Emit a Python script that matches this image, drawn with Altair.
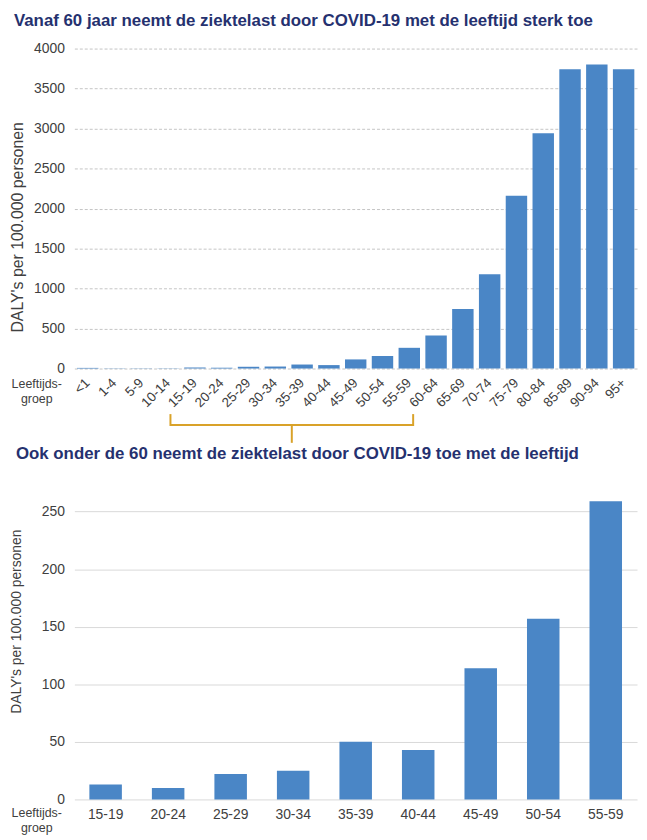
import altair as alt
import pandas as pd

# ---------------- data ----------------
AGE_ALL = ["<1", "1-4", "5-9", "10-14", "15-19", "20-24", "25-29", "30-34",
           "35-39", "40-44", "45-49", "50-54", "55-59", "60-64", "65-69",
           "70-74", "75-79", "80-84", "85-89", "90-94", "95+"]
DALY_ALL = [8, 3, 3, 4, 13, 10, 22, 25, 50, 43, 114, 157, 259, 413, 745,
            1180, 2160, 2940, 3740, 3800, 3740]

AGE_SUB = ["15-19", "20-24", "25-29", "30-34", "35-39", "40-44", "45-49",
           "50-54", "55-59"]
DALY_SUB = [13, 10, 22, 25, 50, 43, 114, 157, 259]

Y_TICKS_TOP = [0, 500, 1000, 1500, 2000, 2500, 3000, 3500, 4000]
Y_TICKS_SUB = [0, 50, 100, 150, 200, 250]

TITLE_TOP = "Vanaf 60 jaar neemt de ziektelast door COVID-19 met de leeftijd sterk toe"
TITLE_SUB = "Ook onder de 60 neemt de ziektelast door COVID-19 toe met de leeftijd"
Y_TITLE = "DALY's per 100.000 personen"
X_LABEL = ["Leeftijds-", "groep"]

# ---------------- style ----------------
BLUE = "#4a86c6"
NAVY = "#25316f"
GOLD = "#d9a229"
TXT = "#404040"
FONT = "Liberation Sans"

W = 568
H1 = 323
H2 = 308

top_df = pd.DataFrame({"age": AGE_ALL, "daly": DALY_ALL})
sub_df = pd.DataFrame({"age": AGE_SUB, "daly": DALY_SUB})
one = alt.Data(values=[{}])


def yaxis(values, dash, gcolor, tsize, tpad, ty):
    return alt.Axis(title=Y_TITLE, values=values, format="d", ticks=False, domain=False,
                    labelPadding=10, labelFontSize=14, labelColor=TXT,
                    titleFontSize=tsize, titleFontWeight="normal", titleColor=TXT,
                    titlePadding=tpad, titleY=ty, minExtent=40, maxExtent=40,
                    grid=True, gridColor=gcolor, gridDash=dash, gridWidth=1)


# ---------------- top chart ----------------
top_bars = alt.Chart(top_df).mark_bar(color=BLUE).encode(
    x=alt.X("age:N", sort=AGE_ALL,
            scale=alt.Scale(paddingInner=0.2, paddingOuter=0.1),
            axis=alt.Axis(title=None, labelAngle=-45, labelAlign="right",
                          labelBaseline="middle", ticks=False, domain=False,
                          labelPadding=12, labelFontSize=13.5, labelColor=TXT,
                          labelOverlap=False, grid=False)),
    y=alt.Y("daly:Q", scale=alt.Scale(domain=[0, 4000], nice=False),
            axis=yaxis(Y_TICKS_TOP, [3, 2], "#c4c4c4", 16, 9, 180)),
)

top_lbl = alt.Chart(one).mark_text(text=X_LABEL, align="center", baseline="top",
                                   fontSize=12.5, lineHeight=15, color=TXT).encode(
    x=alt.value(-38), y=alt.value(H1 + 10))

b_left, b_right = 97, 342
b_mid = (b_left + b_right) / 2
br_h = alt.Chart(one).mark_rule(color=GOLD, strokeWidth=2).encode(
    x=alt.value(b_left), x2=alt.value(b_right), y=alt.value(H1 + 57))
br_l = alt.Chart(one).mark_rule(color=GOLD, strokeWidth=2).encode(
    x=alt.value(b_left), y=alt.value(H1 + 46), y2=alt.value(H1 + 58))
br_r = alt.Chart(one).mark_rule(color=GOLD, strokeWidth=2).encode(
    x=alt.value(b_right), y=alt.value(H1 + 46), y2=alt.value(H1 + 58))
br_m = alt.Chart(one).mark_rule(color=GOLD, strokeWidth=2).encode(
    x=alt.value(b_mid), y=alt.value(H1 + 57), y2=alt.value(H1 + 75))

top = alt.layer(top_bars, top_lbl, br_h, br_l, br_r, br_m).properties(
    width=W, height=H1,
    title=alt.TitleParams(TITLE_TOP, anchor="start", fontSize=17, fontWeight="bold",
                          color=NAVY, offset=12, dx=4, font=FONT))

# ---------------- bottom chart ----------------
sub_bars = alt.Chart(sub_df).mark_bar(color=BLUE).encode(
    x=alt.X("age:N", sort=AGE_SUB,
            scale=alt.Scale(paddingInner=0.48, paddingOuter=0.24),
            axis=alt.Axis(title=None, labelAngle=0, ticks=False, domain=False,
                          labelPadding=8, labelFontSize=14, labelColor=TXT,
                          grid=False)),
    y=alt.Y("daly:Q", scale=alt.Scale(domain=[0, 265], nice=False),
            axis=yaxis(Y_TICKS_SUB, [], "#d9d9d9", 14, 11, 128)),
)

sub_lbl = alt.Chart(one).mark_text(text=X_LABEL, align="center", baseline="top",
                                   fontSize=12.5, lineHeight=15, color=TXT).encode(
    x=alt.value(-38), y=alt.value(H2 + 8))

sub = alt.layer(sub_bars, sub_lbl).properties(
    width=W, height=H2,
    title=alt.TitleParams(TITLE_SUB, anchor="start", fontSize=17, fontWeight="bold",
                          color=NAVY, offset=32, dx=6, font=FONT))

chart = alt.vconcat(top, sub, spacing=1).properties(
    padding={"left": 2, "top": 0, "right": 2, "bottom": 2}).configure(
    font=FONT).configure_view(stroke=None)

chart.save("out.html", embed_options={"renderer": "svg", "actions": False})
